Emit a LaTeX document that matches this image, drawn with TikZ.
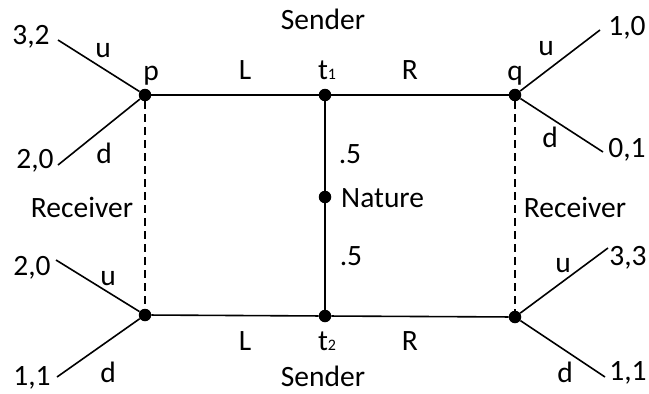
\documentclass[tikz,border=0pt]{standalone}
\usepackage{fontspec}
\setmainfont{Carlito}
\begin{document}
\begin{tikzpicture}[x=1pt,y=-1pt,
  dot/.style={circle,fill=black,inner sep=0pt,minimum size=12.5pt},
  edge/.style={line width=1.6pt},
  info/.style={line width=1.3pt,dash pattern=on 8pt off 5pt},
  lab/.style={inner sep=0pt,anchor=base,font=\fontsize{29.5}{33}\selectfont}]
\useasboundingbox (0,0) rectangle (649,394);
% decision nodes
\node[dot] (p) at (145,95) {};
\node[dot] (t1) at (325,95) {};
\node[dot] (q) at (515,95) {};
\node[dot] (N) at (325,197) {};
\node[dot] (t2) at (325,316) {};
\node[dot] (pp) at (145,315) {};
\node[dot] (qq) at (515,317) {};
% terminal ends
\coordinate (e1) at (58,40);
\coordinate (e2) at (58,165);
\coordinate (e3) at (600,30);
\coordinate (e4) at (603,152);
\coordinate (e5) at (56,260);
\coordinate (e6) at (57,377);
\coordinate (e7) at (608,248);
\coordinate (e8) at (605,377);
% edges
\draw[edge] (p) -- (t1) -- (q);
\draw[edge] (pp) -- (t2) -- (qq);
\draw[edge] (t1) -- (N) -- (t2);
\draw[edge] (p) -- (e1);
\draw[edge] (p) -- (e2);
\draw[edge] (q) -- (e3);
\draw[edge] (q) -- (e4);
\draw[edge] (pp) -- (e5);
\draw[edge] (pp) -- (e6);
\draw[edge] (qq) -- (e7);
\draw[edge] (qq) -- (e8);
\draw[info] (p) -- (pp);
\draw[info] (q) -- (qq);
% labels
\node[lab] (s1) at (323,29) {Sender};
\node[lab] (s2) at (323,386) {Sender};
\node[lab] (lp) at (151,80) {p};
\node[lab] (lq) at (515,80) {q};
\node[lab] (lt1) at (327,79) {t{\fontsize{16}{16}\selectfont 1}};
\node[lab] (lt2) at (327,350) {t{\fontsize{16}{16}\selectfont 2}};
\node[lab] (L1) at (245,79) {L};
\node[lab] (R1) at (410,79) {R};
\node[lab] (L2) at (245,350) {L};
\node[lab] (R2) at (410,350) {R};
\node[lab] (h1) at (350,163) {.5};
\node[lab] (h2) at (351,265) {.5};
\node[lab,anchor=base west] (nat) at (341,207) {Nature};
\node[lab] (rl) at (82,217) {Receiver};
\node[lab] (rr) at (575,217) {Receiver};
\node[lab] (u1) at (103,57) {u};
\node[lab] (d1) at (104,163) {d};
\node[lab] (u2) at (546,55) {u};
\node[lab] (d2) at (550,147) {d};
\node[lab] (u3) at (108,285) {u};
\node[lab] (d3) at (108,382) {d};
\node[lab] (u4) at (563,272) {u};
\node[lab] (d4) at (565,382) {d};
\node[lab] (v1) at (31,44) {3,2};
\node[lab] (v2) at (35,168) {2,0};
\node[lab] (v3) at (627,35) {1,0};
\node[lab] (v4) at (627,157) {0,1};
\node[lab] (v5) at (32,275) {2,0};
\node[lab] (v6) at (32,385) {1,1};
\node[lab] (v7) at (628,265) {3,3};
\node[lab] (v8) at (628,380) {1,1};
\end{tikzpicture}
\end{document}
